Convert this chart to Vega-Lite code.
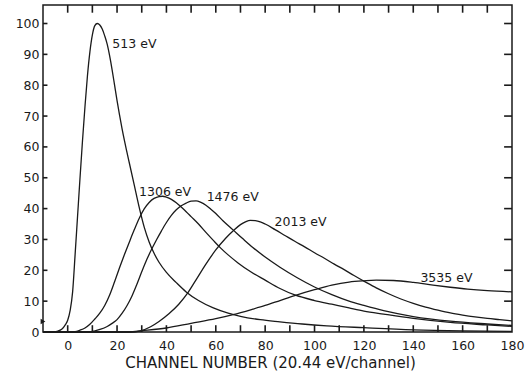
{
"$schema": "https://vega.github.io/schema/vega-lite/v6.json",
"width": 469, "height": 327,
"autosize": {"type": "none"},
"padding": {"left": 43, "top": 5, "right": 16, "bottom": 41},
"background": "white",
"config": {
 "view": {"stroke": "#1a1a1a", "strokeWidth": 1.5},
 "axis": {"ticks": false, "domain": false, "grid": false,
  "labelFont": "DejaVu Sans", "labelFontSize": 12.5, "labelColor": "#1a1a1a",
  "titleFont": "DejaVu Sans", "titleFontWeight": "normal", "titleColor": "#1a1a1a"}
},
"datasets": {
 "curves": [
  {"series":"513","ch":-10,"counts":0},{"series":"513","ch":-6,"counts":0},{"series":"513","ch":-4,"counts":0.3},{"series":"513","ch":-3,"counts":0.6},{"series":"513","ch":-2,"counts":1.2},{"series":"513","ch":-1,"counts":2.3},{"series":"513","ch":0,"counts":3.8},{"series":"513","ch":1,"counts":7},{"series":"513","ch":2,"counts":13},{"series":"513","ch":3,"counts":25},{"series":"513","ch":4,"counts":37.5},{"series":"513","ch":5,"counts":50},{"series":"513","ch":6,"counts":62},{"series":"513","ch":7,"counts":73},{"series":"513","ch":8,"counts":83},{"series":"513","ch":9,"counts":90.8},{"series":"513","ch":10,"counts":96.3},{"series":"513","ch":11,"counts":99.3},{"series":"513","ch":12,"counts":100},{"series":"513","ch":13,"counts":99.5},{"series":"513","ch":14,"counts":98.2},{"series":"513","ch":15,"counts":96},{"series":"513","ch":16,"counts":93.3},{"series":"513","ch":17,"counts":89.5},{"series":"513","ch":18,"counts":85},{"series":"513","ch":19,"counts":80},{"series":"513","ch":20,"counts":75},{"series":"513","ch":21,"counts":70.4},{"series":"513","ch":22,"counts":66},{"series":"513","ch":23,"counts":62},{"series":"513","ch":24,"counts":58.3},{"series":"513","ch":25,"counts":54.7},{"series":"513","ch":27,"counts":47.5},{"series":"513","ch":29,"counts":40.3},{"series":"513","ch":31,"counts":34},{"series":"513","ch":33,"counts":29.2},{"series":"513","ch":35,"counts":25.5},{"series":"513","ch":37,"counts":22.6},{"series":"513","ch":40,"counts":19.3},{"series":"513","ch":44,"counts":16},{"series":"513","ch":48,"counts":13},{"series":"513","ch":53,"counts":10.2},{"series":"513","ch":59,"counts":7.8},{"series":"513","ch":65,"counts":6.1},{"series":"513","ch":70,"counts":5.1},{"series":"513","ch":78,"counts":4},{"series":"513","ch":86,"counts":3.3},{"series":"513","ch":95,"counts":2.6},{"series":"513","ch":105,"counts":2},{"series":"513","ch":120,"counts":1.4},{"series":"513","ch":140,"counts":0.7},{"series":"513","ch":160,"counts":0.35},{"series":"513","ch":180,"counts":0.2},
  {"series":"1306","ch":-10,"counts":0},{"series":"1306","ch":0,"counts":0},{"series":"1306","ch":3,"counts":0.1},{"series":"1306","ch":5,"counts":0.6},{"series":"1306","ch":7,"counts":1.3},{"series":"1306","ch":9,"counts":2.5},{"series":"1306","ch":11,"counts":4.2},{"series":"1306","ch":13,"counts":6.1},{"series":"1306","ch":15,"counts":8.6},{"series":"1306","ch":17,"counts":12},{"series":"1306","ch":19,"counts":16.3},{"series":"1306","ch":21,"counts":20.8},{"series":"1306","ch":23,"counts":25.1},{"series":"1306","ch":25,"counts":29.2},{"series":"1306","ch":27,"counts":33.2},{"series":"1306","ch":29,"counts":36.9},{"series":"1306","ch":31,"counts":39.9},{"series":"1306","ch":33,"counts":42},{"series":"1306","ch":35,"counts":43.3},{"series":"1306","ch":37,"counts":43.9},{"series":"1306","ch":38.5,"counts":44},{"series":"1306","ch":40,"counts":43.7},{"series":"1306","ch":42,"counts":43},{"series":"1306","ch":44,"counts":41.9},{"series":"1306","ch":46,"counts":40.5},{"series":"1306","ch":48,"counts":39},{"series":"1306","ch":50,"counts":37.4},{"series":"1306","ch":53,"counts":35},{"series":"1306","ch":56,"counts":32.3},{"series":"1306","ch":59,"counts":29.7},{"series":"1306","ch":62,"counts":27.2},{"series":"1306","ch":65,"counts":25},{"series":"1306","ch":69,"counts":22.4},{"series":"1306","ch":74,"counts":19.6},{"series":"1306","ch":80,"counts":16.8},{"series":"1306","ch":86,"counts":14.1},{"series":"1306","ch":92,"counts":12},{"series":"1306","ch":100,"counts":10.2},{"series":"1306","ch":107,"counts":9},{"series":"1306","ch":114,"counts":7.8},{"series":"1306","ch":120,"counts":6.8},{"series":"1306","ch":128,"counts":5.8},{"series":"1306","ch":140,"counts":4.4},{"series":"1306","ch":155,"counts":3.1},{"series":"1306","ch":170,"counts":2.3},{"series":"1306","ch":180,"counts":1.8},
  {"series":"1476","ch":-10,"counts":0},{"series":"1476","ch":8,"counts":0},{"series":"1476","ch":11,"counts":0.4},{"series":"1476","ch":13.4,"counts":0.9},{"series":"1476","ch":16,"counts":1.8},{"series":"1476","ch":18,"counts":2.8},{"series":"1476","ch":20,"counts":4},{"series":"1476","ch":22,"counts":6},{"series":"1476","ch":24,"counts":8.5},{"series":"1476","ch":26,"counts":11.6},{"series":"1476","ch":28,"counts":15.4},{"series":"1476","ch":30,"counts":19.5},{"series":"1476","ch":32,"counts":23.4},{"series":"1476","ch":34,"counts":26.8},{"series":"1476","ch":36,"counts":29.9},{"series":"1476","ch":38,"counts":32.8},{"series":"1476","ch":40,"counts":35.5},{"series":"1476","ch":42,"counts":37.8},{"series":"1476","ch":44,"counts":39.6},{"series":"1476","ch":46,"counts":40.9},{"series":"1476","ch":48,"counts":41.8},{"series":"1476","ch":50,"counts":42.4},{"series":"1476","ch":52,"counts":42.5},{"series":"1476","ch":54,"counts":42},{"series":"1476","ch":56,"counts":41.1},{"series":"1476","ch":58,"counts":39.8},{"series":"1476","ch":60,"counts":38.4},{"series":"1476","ch":63,"counts":36},{"series":"1476","ch":67,"counts":33.1},{"series":"1476","ch":71,"counts":30.2},{"series":"1476","ch":75,"counts":27.4},{"series":"1476","ch":80,"counts":24.3},{"series":"1476","ch":86,"counts":21},{"series":"1476","ch":93,"counts":17.6},{"series":"1476","ch":100,"counts":14.6},{"series":"1476","ch":107,"counts":12.1},{"series":"1476","ch":114,"counts":10},{"series":"1476","ch":120,"counts":8.6},{"series":"1476","ch":128,"counts":6.9},{"series":"1476","ch":140,"counts":5},{"series":"1476","ch":155,"counts":3.5},{"series":"1476","ch":170,"counts":2.6},{"series":"1476","ch":180,"counts":2.1},
  {"series":"2013","ch":-10,"counts":0},{"series":"2013","ch":25,"counts":0},{"series":"2013","ch":29.6,"counts":0.4},{"series":"2013","ch":33.6,"counts":1.7},{"series":"2013","ch":37,"counts":3.4},{"series":"2013","ch":41,"counts":5.9},{"series":"2013","ch":45,"counts":9},{"series":"2013","ch":48.5,"counts":12.5},{"series":"2013","ch":52,"counts":16.9},{"series":"2013","ch":56,"counts":22},{"series":"2013","ch":60,"counts":26.6},{"series":"2013","ch":64,"counts":30.4},{"series":"2013","ch":67.3,"counts":33},{"series":"2013","ch":70,"counts":34.8},{"series":"2013","ch":72,"counts":35.7},{"series":"2013","ch":74,"counts":36.2},{"series":"2013","ch":76,"counts":36.1},{"series":"2013","ch":78,"counts":35.7},{"series":"2013","ch":80,"counts":35},{"series":"2013","ch":84,"counts":33.2},{"series":"2013","ch":88,"counts":31.3},{"series":"2013","ch":92,"counts":29.4},{"series":"2013","ch":96,"counts":27.6},{"series":"2013","ch":100,"counts":25.7},{"series":"2013","ch":104,"counts":23.9},{"series":"2013","ch":108,"counts":22},{"series":"2013","ch":112,"counts":20.2},{"series":"2013","ch":116,"counts":18.3},{"series":"2013","ch":120,"counts":16.5},{"series":"2013","ch":125,"counts":14.3},{"series":"2013","ch":130,"counts":12.4},{"series":"2013","ch":135,"counts":10.7},{"series":"2013","ch":140,"counts":9.3},{"series":"2013","ch":145,"counts":8.1},{"series":"2013","ch":150,"counts":7.1},{"series":"2013","ch":155,"counts":6.2},{"series":"2013","ch":160,"counts":5.5},{"series":"2013","ch":165,"counts":4.9},{"series":"2013","ch":170,"counts":4.4},{"series":"2013","ch":175,"counts":4},{"series":"2013","ch":180,"counts":3.6},
  {"series":"3535","ch":-10,"counts":0},{"series":"3535","ch":25,"counts":0},{"series":"3535","ch":30,"counts":0.4},{"series":"3535","ch":40,"counts":1.3},{"series":"3535","ch":50,"counts":2.8},{"series":"3535","ch":60,"counts":4.3},{"series":"3535","ch":67,"counts":5.6},{"series":"3535","ch":75,"counts":7.4},{"series":"3535","ch":80,"counts":8.6},{"series":"3535","ch":86,"counts":10.2},{"series":"3535","ch":92,"counts":11.8},{"series":"3535","ch":100,"counts":13.7},{"series":"3535","ch":107,"counts":15.2},{"series":"3535","ch":114,"counts":16.2},{"series":"3535","ch":120,"counts":16.6},{"series":"3535","ch":125,"counts":16.8},{"series":"3535","ch":132,"counts":16.7},{"series":"3535","ch":140,"counts":16.1},{"series":"3535","ch":148,"counts":15.2},{"series":"3535","ch":155,"counts":14.5},{"series":"3535","ch":162,"counts":13.9},{"series":"3535","ch":170,"counts":13.4},{"series":"3535","ch":180,"counts":13}
 ],
 "labels": [
  {"text":"513 eV","ch":18.1,"counts":93.2},
  {"text":"1306 eV","ch":28.9,"counts":45.4},
  {"text":"1476 eV","ch":56.3,"counts":43.6},
  {"text":"2013 eV","ch":83.8,"counts":35.7},
  {"text":"3535 eV","ch":142.9,"counts":17.5}
 ],
 "marker": [{"ch":-10,"counts":3.4}],
 "xticks": [{"v":0},{"v":10},{"v":20},{"v":30},{"v":40},{"v":50},{"v":60},{"v":70},{"v":80},{"v":90},{"v":100},{"v":110},{"v":120},{"v":130},{"v":140},{"v":150},{"v":160},{"v":170}],
 "yticks": [{"v":10},{"v":20},{"v":30},{"v":40},{"v":50},{"v":60},{"v":70},{"v":80},{"v":90},{"v":100}]
},
"layer": [
 {"data": {"name": "curves"},
  "mark": {"type": "line", "interpolate": "monotone", "color": "#1a1a1a", "strokeWidth": 1.3},
  "encoding": {
   "x": {"field": "ch", "type": "quantitative", "scale": {"domain": [-10, 180], "nice": false, "zero": false},
    "axis": {"orient": "bottom", "values": [0,20,40,60,80,100,120,140,160,180], "labelOverlap": false, "labelFlush": false, "labelPadding": 7,
     "title": "CHANNEL  NUMBER  (20.44 eV/channel)", "titleFontSize": 15, "titleX": 227, "titleY": 35, "titleBaseline": "alphabetic", "titleAlign": "center", "titleAnchor": null}},
   "y": {"field": "counts", "type": "quantitative", "scale": {"domain": [0, 106], "nice": false},
    "axis": {"orient": "left", "values": [0,10,20,30,40,50,60,70,80,90,100], "labelPadding": 4, "title": null, "labelOverlap": false, "labelFlush": false}},
   "detail": {"field": "series"}
  }},
 {"data": {"name": "xticks"},
  "mark": {"type": "rule", "color": "#1a1a1a", "strokeWidth": 1.6, "opacity": 1},
  "encoding": {
   "x": {"field": "v", "type": "quantitative", "axis": null},
   "y": {"datum": 0, "type": "quantitative", "axis": null},
   "y2": {"datum": 2.2}
  }},
 {"data": {"name": "xticks"},
  "mark": {"type": "rule", "color": "#1a1a1a", "strokeWidth": 1.6, "opacity": 1},
  "encoding": {
   "x": {"field": "v", "type": "quantitative", "axis": null},
   "y": {"datum": 103.5, "type": "quantitative", "axis": null},
   "y2": {"datum": 106}
  }},
 {"data": {"name": "yticks"},
  "mark": {"type": "rule", "color": "#1a1a1a", "strokeWidth": 1.6, "opacity": 1},
  "encoding": {
   "y": {"field": "v", "type": "quantitative", "axis": null},
   "x": {"datum": -10, "type": "quantitative", "axis": null},
   "x2": {"datum": -8.2}
  }},
 {"data": {"name": "yticks"},
  "mark": {"type": "rule", "color": "#1a1a1a", "strokeWidth": 1.6, "opacity": 1},
  "encoding": {
   "y": {"field": "v", "type": "quantitative", "axis": null},
   "x": {"datum": 176.8, "type": "quantitative", "axis": null},
   "x2": {"datum": 180}
  }},
 {"data": {"name": "labels"},
  "mark": {"type": "text", "align": "left", "baseline": "middle", "font": "DejaVu Sans", "fontSize": 12.5, "color": "#1a1a1a"},
  "encoding": {
   "x": {"field": "ch", "type": "quantitative", "axis": null},
   "y": {"field": "counts", "type": "quantitative", "axis": null},
   "text": {"field": "text"}
  }},
 {"data": {"name": "marker"},
  "mark": {"type": "point", "shape": "triangle-right", "filled": true, "size": 30, "color": "#1a1a1a", "opacity": 1},
  "encoding": {
   "x": {"field": "ch", "type": "quantitative", "axis": null},
   "y": {"field": "counts", "type": "quantitative", "axis": null}
  }}
],
"resolve": {"axis": {"x": "independent", "y": "independent"}}
}
